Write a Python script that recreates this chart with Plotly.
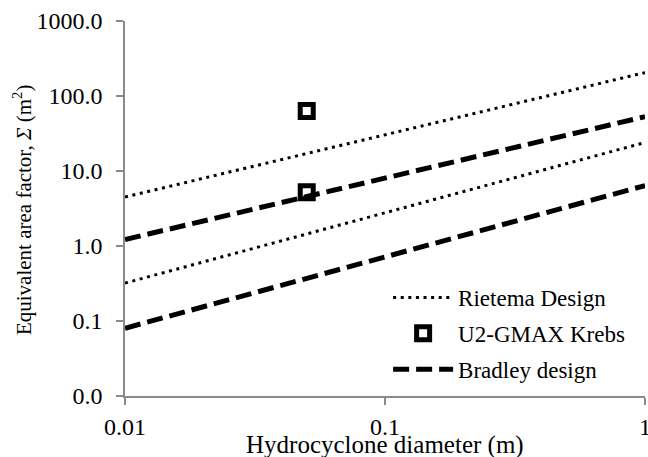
import plotly.graph_objects as go

# Hydrocyclone diameter (m) at the ends of each design line
diameter = [0.01, 1.0]

# Equivalent area factor (m^2) for the two Rietema design lines
rietema_high = [4.5, 205.0]
rietema_low = [0.32, 24.0]

# Equivalent area factor (m^2) for the two Bradley design lines
bradley_high = [1.22, 53.0]
bradley_low = [0.080, 6.4]

# Measured unit
krebs_diameter = [0.05, 0.05]
krebs_sigma = [63.0, 5.2]

y_tickvals = [0.01, 0.1, 1, 10, 100, 1000]
y_ticktext = ["0.0", "0.1", "1.0", "10.0", "100.0", "1000.0"]
x_tickvals = [0.01, 0.1, 1]
x_ticktext = ["0.01", "0.1", "1"]

FONT = "Liberation Serif"
AXIS_GREY = "#8a8a8a"


def two_lines(a, b):
    xs = diameter + [None] + diameter
    ys = a + [None] + b
    return xs, ys


fig = go.Figure()

rx, ry = two_lines(rietema_high, rietema_low)
fig.add_trace(go.Scatter(
    x=rx, y=ry, mode="lines", name="Rietema Design", legendgroup="r",
    line=dict(color="black", width=3, dash="3px,4.6px"),
))

fig.add_trace(go.Scatter(
    x=krebs_diameter, y=krebs_sigma, mode="markers", name="U2-GMAX Krebs",
    legendgroup="k",
    marker=dict(symbol="square-open", size=13, color="black",
                line=dict(width=5, color="black")),
))

bx, by = two_lines(bradley_high, bradley_low)
fig.add_trace(go.Scatter(
    x=bx, y=by, mode="lines", name="Bradley design", legendgroup="b",
    line=dict(color="black", width=5, dash="16px,7px"),
))

fig.update_xaxes(
    type="log", range=[-2, 0], tickvals=x_tickvals, ticktext=x_ticktext,
    showgrid=False, zeroline=False, showline=True, linecolor=AXIS_GREY,
    linewidth=1.5, ticks="outside", ticklen=7, tickcolor=AXIS_GREY,
    tickwidth=1.5, automargin=False, ticklabelstandoff=1,
    ticklabeloverflow="allow",
    tickfont=dict(family=FONT, size=24, color="black"),
)
fig.update_yaxes(
    type="log", range=[-2, 3], tickvals=y_tickvals, ticktext=y_ticktext,
    showgrid=False, zeroline=False, showline=True, linecolor=AXIS_GREY,
    linewidth=1.5, ticks="outside", ticklen=7, tickcolor=AXIS_GREY,
    tickwidth=1.5, automargin=False, ticklabelstandoff=9,
    ticklabeloverflow="allow",
    tickfont=dict(family=FONT, size=24, color="black"),
)

fig.add_annotation(
    text="Hydrocyclone diameter (m)", xref="paper", yref="paper",
    x=0.5, y=-0.13, xanchor="center", yanchor="middle", showarrow=False,
    font=dict(family=FONT, size=25, color="black"),
)
fig.add_annotation(
    text="Equivalent area factor, <i>Σ</i> (m<sup>2</sup>)",
    xref="paper", yref="paper", x=-0.198, y=0.496, textangle=-90,
    xanchor="center", yanchor="middle", showarrow=False,
    font=dict(family=FONT, size=21, color="black"),
)

fig.update_layout(
    width=648, height=457,
    margin=dict(l=125, r=3, t=21, b=61),
    paper_bgcolor="white", plot_bgcolor="white",
    font=dict(family=FONT, color="black"),
    showlegend=True,
    legend=dict(
        x=0.506, y=0.32, xanchor="left", yanchor="top",
        bgcolor="rgba(0,0,0,0)", tracegroupgap=3, itemwidth=60,
        font=dict(family=FONT, size=23, color="black"),
    ),
)

fig.write_html("out.html")
